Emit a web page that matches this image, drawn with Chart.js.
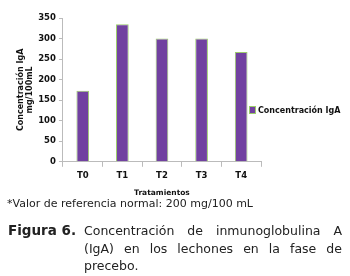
<!DOCTYPE html>
<html><head><meta charset="utf-8">
<script src="https://cdn.jsdelivr.net/npm/chart.js@4"></script>
<style>
html,body{margin:0;padding:0;background:#fff;width:350px;height:276px;overflow:hidden;}
#wrap{position:absolute;left:0;top:0;width:350px;height:198px;}
.leg{position:absolute;left:249px;top:106px;font:bold 8px "DejaVu Sans",Verdana,sans-serif;color:#111;white-space:nowrap;}
.leg i{display:inline-block;width:5px;height:6px;background:#7141a0;border:1px solid #9ccc6c;margin-right:2px;vertical-align:-1px;}
.note{position:absolute;left:7px;top:197px;font:11px "DejaVu Sans",Verdana,sans-serif;color:#222;white-space:nowrap;}
.cap{position:absolute;left:8px;top:222px;width:334px;font:12.5px "DejaVu Sans",Verdana,sans-serif;color:#222;line-height:17.5px;}
.cap b{position:absolute;left:0;top:0;font-weight:bold;font-size:13.5px;}
.cap .t{margin-left:76px;text-align:justify;}
</style></head>
<body>
<div id="wrap"><canvas id="c" width="350" height="198"></canvas></div>
<div class="leg" id="leg"></div>
<div class="note">*Valor de referencia normal: 200 mg/100 mL</div>
<div class="cap"><b>Figura 6.</b><div class="t">Concentración de inmunoglobulina A (IgA) en los lechones en la fase de precebo.</div></div>
<script>
const categories = ["T0","T1","T2","T3","T4"];
const igaValues = [173, 335, 300, 300, 267];
const seriesName = "Concentración IgA";
const yTitle = ["Concentración IgA","mg/100mL"];
const xTitle = "Tratamientos";

document.getElementById('leg').innerHTML = '<i></i>' + seriesName;

new Chart(document.getElementById('c'), {
  type: 'bar',
  data: {
    labels: categories,
    datasets: [{
      label: seriesName,
      data: igaValues,
      backgroundColor: '#7141a0',
      borderColor: '#9ccc6c',
      borderWidth: 1,
      barPercentage: 0.32,
      categoryPercentage: 1
    }]
  },
  options: {
    responsive: false,
    animation: false,
    devicePixelRatio: 1,
    layout: {padding: {left: 16, top: 18, right: 89, bottom: 0}},
    plugins: {
      legend: {display: false},
      tooltip: {enabled: false}
    },
    scales: {
      x: {
        grid: {display: true, drawOnChartArea: false, offset: true, tickLength: 5, color: '#bbb'},
        border: {color: '#bbb'},
        ticks: {color: '#111', font: {family: 'DejaVu Sans', size: 8.5, weight: 'bold'}, padding: 4},
        title: {display: true, text: xTitle, color: '#111', font: {family: 'DejaVu Sans', size: 7.5, weight: 'bold'}, padding: {top: 4, bottom: 0}}
      },
      y: {
        min: 0, max: 350,
        grid: {display: true, drawOnChartArea: false, tickLength: 4, color: '#bbb'},
        border: {color: '#bbb'},
        ticks: {stepSize: 50, color: '#111', font: {family: 'DejaVu Sans', size: 8.5, weight: 'bold'}, padding: 3},
        title: {display: true, text: yTitle, color: '#111', font: {family: 'DejaVu Sans', size: 8, weight: 'bold', lineHeight: 1.2}, padding: {top: 0, bottom: 0}}
      }
    }
  }
});
</script>
</body></html>
